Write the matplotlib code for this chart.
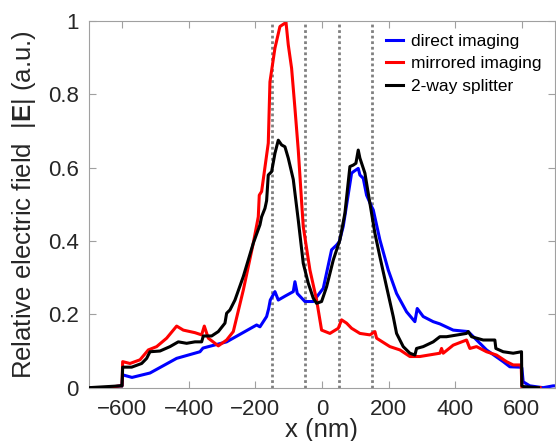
import matplotlib
matplotlib.use("Agg")
import matplotlib.pyplot as plt

plt.rcParams['font.family'] = ['Liberation Sans', 'DejaVu Sans']
plt.rcParams['mathtext.fontset'] = 'custom'
plt.rcParams['mathtext.rm'] = 'Liberation Sans'
plt.rcParams['mathtext.bf'] = 'Liberation Sans:bold'

# direct imaging
bx = [-700, -640, -605, -600, -598, -570, -516, -436, -366, -357, -286, -196, -186, -166, -160,
      -155, -141, -131, -110, -86, -81, -74, -51, -26, 4, 29, 44, 52, 64, 89, 96, 109, 114, 124,
      134, 149, 154, 174, 199, 224, 254, 279, 286, 304, 334, 354, 394, 439, 494, 544, 564, 594,
      600, 604, 624, 664, 694, 700]
by = [0, 0, 0.005, 0.005, 0.035, 0.028, 0.04, 0.08, 0.098, 0.108, 0.125, 0.171, 0.166, 0.194, 0.215,
      0.239, 0.262, 0.239, 0.25, 0.262, 0.289, 0.257, 0.235, 0.235, 0.271, 0.376, 0.389, 0.398, 0.44,
      0.585, 0.59, 0.598, 0.58, 0.571, 0.525, 0.494, 0.485, 0.403, 0.321, 0.257, 0.207, 0.18, 0.216,
      0.194, 0.18, 0.174, 0.157, 0.153, 0.103, 0.071, 0.057, 0.056, 0.054, 0.016, 0.005, 0, 0.005, 0.005]

# mirrored imaging
rx = [-650, -605, -600, -598, -576, -546, -521, -496, -466, -436, -416, -381, -361, -353, -341,
      -311, -286, -266, -236, -206, -191, -188, -181, -161, -156, -141, -126, -111, -108, -101, -91,
      -81, -71, -61, -56, -36, -16, -1, 24, 49, 59, 74, 89, 114, 144, 159, 164, 204, 234, 264, 294,
      354, 359, 364, 394, 434, 444, 464, 494, 524, 554, 574, 598, 600, 655]
ry = [0, 0.005, 0.005, 0.071, 0.066, 0.076, 0.103, 0.112, 0.135, 0.168, 0.157, 0.15, 0.144, 0.168, 0.135,
      0.114, 0.13, 0.153, 0.266, 0.394, 0.466, 0.525, 0.535, 0.667, 0.834, 0.926, 0.985, 0.994, 0.998,
      0.935, 0.871, 0.762, 0.648, 0.507, 0.439, 0.321, 0.239, 0.157, 0.148, 0.162, 0.185, 0.176, 0.162,
      0.148, 0.144, 0.153, 0.135, 0.112, 0.103, 0.085, 0.085, 0.094, 0.107, 0.094, 0.116, 0.13, 0.107,
      0.112, 0.098, 0.089, 0.071, 0.062, 0.062, 0, 0]

# 2-way splitter
kx = [-700, -605, -600, -598, -571, -541, -526, -516, -486, -456, -431, -406, -381, -361, -356,
      -331, -311, -291, -286, -276, -261, -236, -206, -186, -181, -171, -166, -161, -151, -141,
      -131, -121, -111, -101, -86, -71, -56, -41, -26, -16, -1, 14, 34, 54, 69, 84, 94, 102, 109,
      114, 129, 144, 159, 174, 194, 214, 224, 244, 264, 279, 284, 304, 334, 354, 374, 434, 439,
      449, 484, 519, 522, 544, 574, 599, 600, 605, 650]
ky = [0, 0.005, 0.005, 0.056, 0.056, 0.066, 0.08, 0.098, 0.1, 0.112, 0.125, 0.121, 0.125, 0.125, 0.141,
      0.141, 0.153, 0.176, 0.203, 0.212, 0.239, 0.303, 0.394, 0.444, 0.466, 0.489, 0.51, 0.58, 0.589,
      0.639, 0.675, 0.662, 0.657, 0.626, 0.568, 0.457, 0.339, 0.285, 0.244, 0.23, 0.235, 0.275, 0.348,
      0.403, 0.476, 0.603, 0.607, 0.612, 0.648, 0.626, 0.585, 0.503, 0.421, 0.357, 0.275, 0.194, 0.148,
      0.112, 0.094, 0.089, 0.107, 0.112, 0.125, 0.139, 0.139, 0.148, 0.153, 0.139, 0.13, 0.13, 0.107,
      0.098, 0.094, 0.098, 0.005, 0.003, 0]

boundaries = [-150, -50, 50, 150]
xticks = [-600, -400, -200, 0, 200, 400, 600]
yticks = [0, 0.2, 0.4, 0.6, 0.8, 1]

fig = plt.figure(figsize=(5.56, 4.41), dpi=100)
ax = fig.add_axes([0.1595, 0.1209, 0.839, 0.8315])

for b in boundaries:
    ax.axvline(b, color='#808080', linestyle=(0, (1, 1)), lw=2, zorder=1)

ax.plot(bx, by, color='#0000ff', lw=2.2, label='direct imaging', zorder=2)
ax.plot(rx, ry, color='#ff0000', lw=2.2, label='mirrored imaging', zorder=2)
ax.plot(kx, ky, color='#000000', lw=2.2, label='2-way splitter', zorder=3)

ax.set_xlim(-700, 700)
ax.set_ylim(0, 1)
ax.set_xticks(xticks)
ax.set_yticks(yticks)
ax.set_yticklabels(['0', '0.2', '0.4', '0.6', '0.8', '1'])
ax.tick_params(direction='in', top=True, right=True, length=5, width=0.8,
               colors='#a0a0a0', labelcolor='#262626', labelsize=16)
ax.tick_params(axis='x', pad=8)
ax.tick_params(axis='y', pad=7)
for s in ax.spines.values():
    s.set_color('#a0a0a0')
    s.set_linewidth(0.8)

ax.set_xlabel('x (nm)', fontsize=18.5, color='#262626', labelpad=-1)
ax.set_ylabel(r'Relative electric field  |$\mathbf{E}$| (a.u.)', fontsize=18.5,
              color='#262626', labelpad=7)

ax.legend(loc='upper left', bbox_to_anchor=(0.637, 0.965), frameon=False,
          fontsize=12.5, handlelength=1.0, handletextpad=0.45, labelspacing=0.42,
          borderaxespad=0, borderpad=0)

fig.savefig('out.png', dpi=100)
